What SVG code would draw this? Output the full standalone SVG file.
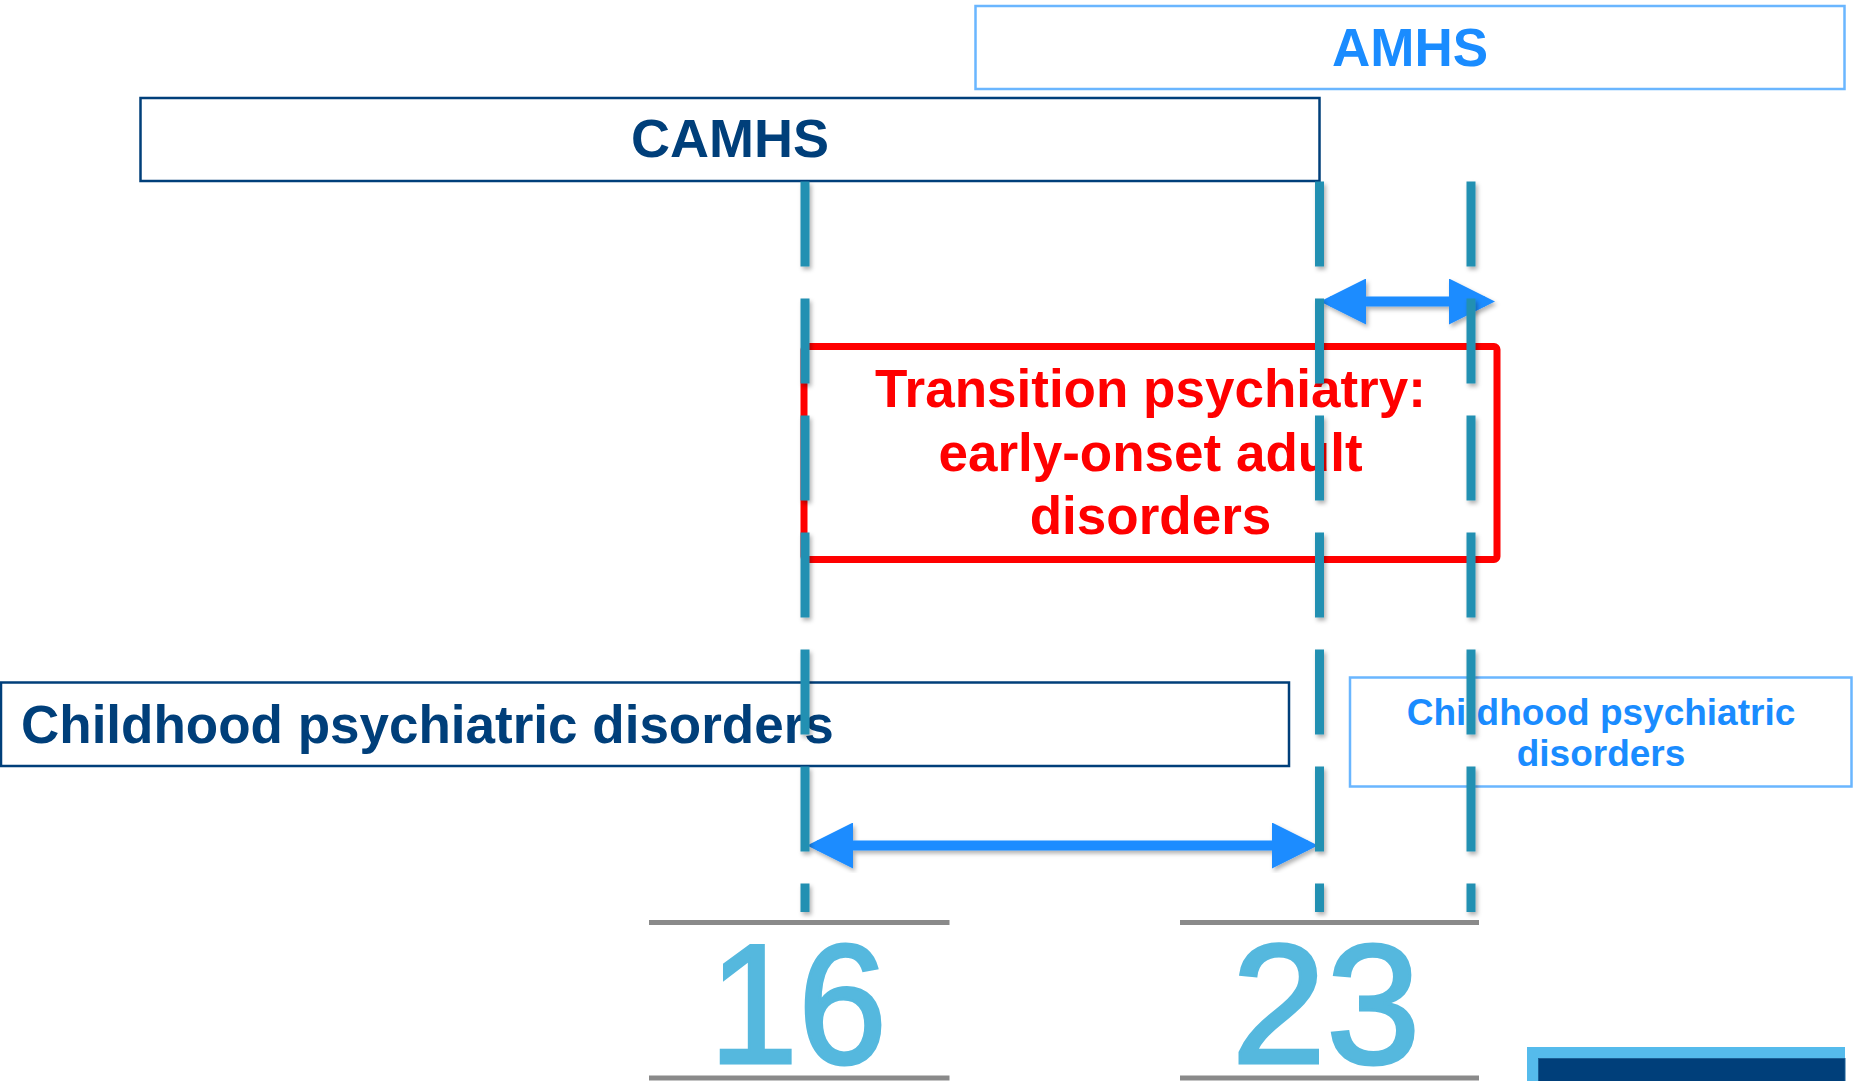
<svg xmlns="http://www.w3.org/2000/svg" width="1854" height="1081" viewBox="0 0 1854 1081">
  <style>
    .t { font-family: "Liberation Sans", Arial, sans-serif; font-weight: bold; }
    .dark { fill: #003f7a; }
    .lblue { fill: #1a8cff; }
    .boxd { fill: #ffffff; stroke: #003f7a; stroke-width: 2.5; }
    .boxl { fill: #ffffff; stroke: #6ab6ff; stroke-width: 2.5; }
    .vdash { stroke: #2190b2; stroke-width: 9; stroke-dasharray: 85 32; fill: none; }
    .arrow { stroke: #1a8cff; stroke-width: 10; fill: none; }
    .tick { stroke: #8a8a8a; stroke-width: 5; }
    .num { font-family: "Liberation Sans", Arial, sans-serif; font-size: 170px; fill: #55b8de; stroke: #55b8de; stroke-width: 3; text-anchor: middle; }
  </style>
  <defs>
    <filter id="sh" x="-20%" y="-5%" width="140%" height="110%">
      <feDropShadow dx="2" dy="3" stdDeviation="2" flood-color="#000" flood-opacity="0.3"/>
    </filter>
    <marker id="ah" viewBox="0 0 46 46" markerWidth="46" markerHeight="46" refX="36" refY="23" orient="auto-start-reverse" markerUnits="userSpaceOnUse">
      <path d="M0,0 L46,23 L0,46 Z" fill="#1a8cff"/>
    </marker>
  </defs>
  <rect width="1854" height="1081" fill="#ffffff"/>

  <g id="amhs">
    <rect class="boxl" x="975.5" y="6" width="869" height="83"/>
    <text class="t lblue" x="1410" y="66" font-size="53" text-anchor="middle">AMHS</text>
  </g>

  <g id="camhs">
    <rect class="boxd" x="140.5" y="98" width="1179" height="83"/>
    <text class="t dark" x="730" y="157" font-size="54" text-anchor="middle">CAMHS</text>
  </g>

  <g id="transition">
    <rect x="804" y="346.5" width="693" height="213" rx="3" fill="none" stroke="#ff0000" stroke-width="7"/>
    <text class="t" x="1150.5" y="407" font-size="53" fill="#ff0000" text-anchor="middle">Transition psychiatry:</text>
    <text class="t" x="1150.5" y="470.5" font-size="53" fill="#ff0000" text-anchor="middle">early-onset adult</text>
    <text class="t" x="1150.5" y="534" font-size="53" fill="#ff0000" text-anchor="middle">disorders</text>
  </g>

  <g id="childhood-left">
    <rect class="boxd" x="1" y="682.5" width="1288" height="83.5"/>
    <text class="t dark" x="21" y="742.5" font-size="53">Childhood psychiatric disorders</text>
  </g>

  <g id="childhood-right">
    <rect class="boxl" x="1350" y="677.5" width="501.5" height="109"/>
    <text class="t lblue" x="1601" y="725" font-size="37" text-anchor="middle">Childhood psychiatric</text>
    <text class="t lblue" x="1601" y="766" font-size="37" text-anchor="middle">disorders</text>
  </g>

  <g id="age16">
    <line class="tick" x1="649" y1="922.5" x2="949.5" y2="922.5"/>
    <line class="tick" x1="649" y1="1078" x2="949.5" y2="1078"/>
    <text class="num" x="798" y="1063" textLength="178" lengthAdjust="spacingAndGlyphs">16</text>
  </g>

  <g id="age23">
    <line class="tick" x1="1180" y1="922.5" x2="1479" y2="922.5"/>
    <line class="tick" x1="1180" y1="1078" x2="1479" y2="1078"/>
    <text class="num" x="1326" y="1063">23</text>
  </g>

  <g id="corner-block">
    <rect x="1527" y="1047" width="318" height="40" fill="#55bbec"/>
    <rect x="1538.5" y="1058.5" width="306.5" height="30" fill="#003f7a" stroke="#1b5f95" stroke-width="1"/>
  </g>

  <g id="connectors">
    <g filter="url(#sh)">
      <line class="arrow" x1="1330" y1="301.5" x2="1485" y2="301.5" marker-start="url(#ah)" marker-end="url(#ah)"/>
      <line class="arrow" x1="817" y1="845.5" x2="1308" y2="845.5" marker-start="url(#ah)" marker-end="url(#ah)"/>
    </g>
    <g filter="url(#sh)">
      <line class="vdash" x1="805" y1="181.5" x2="805" y2="912"/>
      <line class="vdash" x1="1319.5" y1="181.5" x2="1319.5" y2="912"/>
      <line class="vdash" x1="1471" y1="181.5" x2="1471" y2="912"/>
    </g>
  </g>
</svg>
